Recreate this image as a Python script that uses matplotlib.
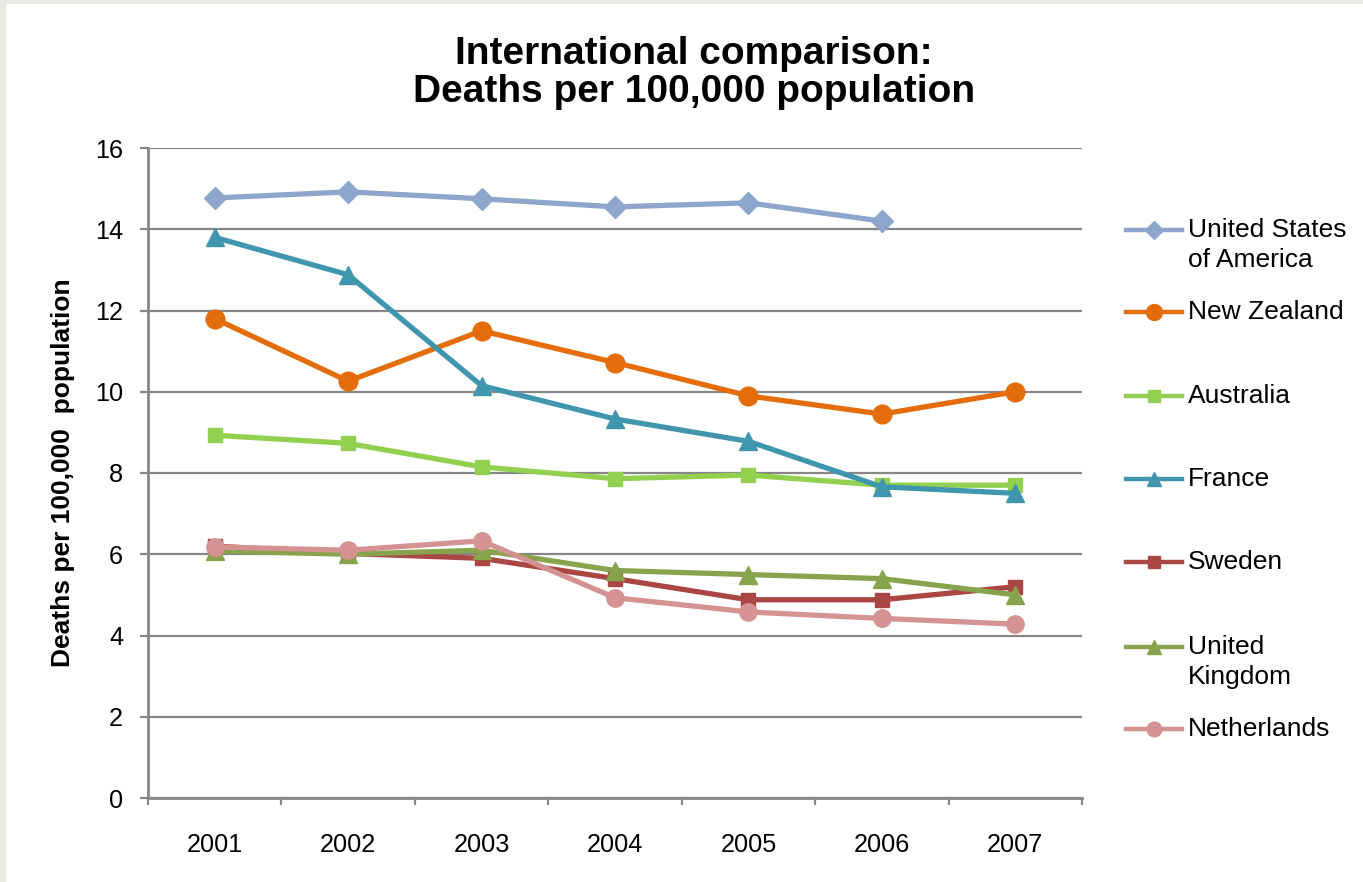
import matplotlib.pyplot as plt
from matplotlib.lines import Line2D
from matplotlib.patches import Rectangle

plt.rcParams['font.family'] = ['Liberation Sans', 'DejaVu Sans']

# data
years = ['2001', '2002', '2003', '2004', '2005', '2006', '2007']
usa = [14.77, 14.92, 14.75, 14.55, 14.65, 14.2, None]
new_zealand = [11.8, 10.26, 11.5, 10.72, 9.9, 9.45, 10.0]
australia = [8.93, 8.73, 8.15, 7.86, 7.95, 7.7, 7.7]
france = [13.8, 12.88, 10.15, 9.33, 8.78, 7.66, 7.5]
sweden = [6.2, 6.02, 5.9, 5.4, 4.88, 4.88, 5.2]
uk = [6.08, 6.0, 6.1, 5.6, 5.5, 5.4, 5.0]
netherlands = [6.18, 6.1, 6.33, 4.93, 4.58, 4.42, 4.28]

series = [
    ('United States\nof America', usa, '#8EA5CC', 'D', 11),
    ('New Zealand', new_zealand, '#E46C0A', 'o', 13.5),
    ('Australia', australia, '#92D050', 's', 10.5),
    ('France', france, '#4096AE', '^', 12.5),
    ('Sweden', sweden, '#AA4643', 's', 10.5),
    ('United\nKingdom', uk, '#87A44C', '^', 12.5),
    ('Netherlands', netherlands, '#D49392', 'o', 12.5),
]

W, H = 1363, 882
fig = plt.figure(figsize=(W / 100, H / 100), dpi=100)
fig.patch.set_facecolor('#E8EBE3')
fig.add_artist(Rectangle((6 / W, 0), 1, 1 - 4 / H, transform=fig.transFigure,
                         facecolor='white', edgecolor='none', zorder=0))

ax = fig.add_axes([148 / W, 1 - 798 / H, (1082 - 148) / W, (798 - 148) / H])
ax.set_facecolor('none')

pos = list(range(1, len(years) + 1))
for label, vals, color, marker, ms in series:
    xs = [p for p, v in zip(pos, vals) if v is not None]
    ys = [v for v in vals if v is not None]
    ax.plot(xs, ys, color=color, lw=3.8, marker=marker, ms=ms,
            markeredgecolor=color, label=label, zorder=3)

ax.set_xlim(0.5, len(years) + 0.5)
ax.set_ylim(0, 16)
ax.set_yticks(range(0, 17, 2))
ax.yaxis.grid(True, color='#878787', lw=1.6)
ax.set_axisbelow(True)

# category axis: ticks on boundaries, labels at centres
ax.set_xticks([p - 0.5 for p in pos] + [len(years) + 0.5])
ax.set_xticklabels([])
ax.set_xticks(pos, minor=True)
ax.set_xticklabels(years, minor=True)
ax.tick_params(axis='x', which='major', length=5, width=1.6, color='#878787')
ax.tick_params(axis='x', which='minor', length=0, pad=25, labelsize=18.2)
ax.tick_params(axis='y', length=6, width=1.6, color='#878787', pad=12, labelsize=18.2)

for s in ['top', 'right']:
    ax.spines[s].set_visible(False)
for s in ['left', 'bottom']:
    ax.spines[s].set_color('#878787')
    ax.spines[s].set_linewidth(2)

ax.set_ylabel('Deaths per 100,000  population', fontsize=19, fontweight='bold')
ax.yaxis.set_label_coords(-73 / (1082 - 148), 0.5)

fig.text(694 / W, 1 - 73 / H, 'International comparison:\nDeaths per 100,000 population',
         ha='center', va='center', fontsize=28, fontweight='bold', linespacing=1.08)

# legend drawn by hand to match the spacing of the original
legend_y = [230, 312, 396, 479, 562, 647, 729]
for (label, vals, color, marker, ms), ly in zip(series, legend_y):
    yf = 1 - ly / H
    fig.add_artist(Line2D([1126 / W, 1182 / W], [yf, yf], transform=fig.transFigure,
                          color=color, lw=3.2))
    fig.add_artist(Line2D([1154 / W], [yf], transform=fig.transFigure, color=color,
                          marker=marker, ms=ms * 0.85, markeredgecolor=color))
    for i, part in enumerate(label.split('\n')):
        fig.text(1188 / W, 1 - (ly + i * 30) / H, part, ha='left', va='center', fontsize=19)

fig.savefig('out.png', dpi=100, facecolor=fig.get_facecolor())
